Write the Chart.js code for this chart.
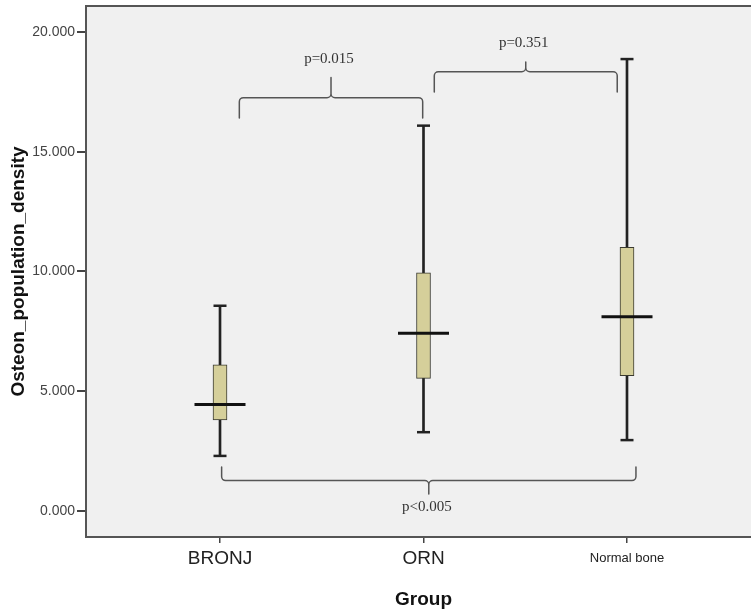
<!DOCTYPE html>
<html>
<head>
<meta charset="utf-8">
<script src="https://cdn.jsdelivr.net/npm/chart.js@4.4.1/dist/chart.umd.min.js"></script>
<style>
  html, body { margin: 0; padding: 0; background: #ffffff; overflow: hidden; }
  #wrap { width: 761px; height: 611px; }
</style>
</head>
<body>
<div id="wrap"><canvas id="c" width="761" height="611"></canvas></div>
<script>
// ---- data ----
const categories   = ['BRONJ', 'ORN', 'Normal bone'];
const whiskerLow   = [2.30, 3.29, 2.96];
const quartile1    = [3.80, 5.54, 5.65];
const medians      = [4.45, 7.42, 8.11];
const quartile3    = [6.10, 9.94, 11.01];
const whiskerHigh  = [8.57, 16.09, 18.87];
const yTickValues  = [0, 5, 10, 15, 20];
const yTickLabels  = ['0.000', '5.000', '10.000', '15.000', '20.000'];
const pLabels      = ['p=0.015', 'p=0.351', 'p<0.005'];

const SANS = 'Liberation Sans, Arial, sans-serif';
const SERIF = 'Liberation Serif, Times New Roman, serif';

// bracket annotation geometry (category-index units on x, value units on y)
const bracketGeom = [
  { from: 0.095, to: 0.996, bar: 17.26, leg: 16.41, tip: 18.10, text: 18.87 },
  { from: 1.053, to: 1.952, bar: 18.34, leg: 17.50, tip: 18.75, text: 19.54 },
  { from: 0.008, to: 2.044, bar: 1.27,  leg: 1.84,  tip: 0.71,  text: 0.18 }
];

const framePlugin = {
  id: 'frame',
  beforeDraw(chart) {
    const { ctx, chartArea: a } = chart;
    ctx.save();
    ctx.fillStyle = '#f0f0f0';
    ctx.fillRect(a.left, a.top, a.right - a.left, a.bottom - a.top);
    ctx.restore();
  },
  afterDraw(chart) {
    const { ctx, chartArea: a } = chart;
    ctx.save();
    ctx.strokeStyle = '#555555';
    ctx.lineWidth = 2;
    ctx.beginPath();
    ctx.moveTo(a.left, a.top);
    ctx.lineTo(a.right, a.top);
    ctx.stroke();
    ctx.restore();
  }
};

const bracketPlugin = {
  id: 'brackets',
  afterDatasetsDraw(chart) {
    const { ctx, scales: { x, y } } = chart;
    ctx.save();
    ctx.strokeStyle = '#555555';
    ctx.lineWidth = 1.5;
    ctx.lineJoin = 'round';
    ctx.lineCap = 'round';
    const r = 4;
    bracketGeom.forEach((b, i) => {
      const x1 = x.getPixelForValue(b.from);
      const x2 = x.getPixelForValue(b.to);
      const xc = (x1 + x2) / 2;
      const yH = y.getPixelForValue(b.bar);
      const yL = y.getPixelForValue(b.leg);
      const yT = y.getPixelForValue(b.tip);
      ctx.beginPath();
      ctx.moveTo(x1, yL);
      ctx.arcTo(x1, yH, xc, yH, r);
      ctx.arcTo(xc, yH, xc, yT, r);
      ctx.lineTo(xc, yT);
      ctx.moveTo(xc, yT);
      ctx.arcTo(xc, yH, x2, yH, r);
      ctx.arcTo(x2, yH, x2, yL, r);
      ctx.lineTo(x2, yL);
      ctx.stroke();
      ctx.fillStyle = '#333333';
      ctx.font = '15px ' + SERIF;
      ctx.textAlign = 'center';
      ctx.textBaseline = 'middle';
      ctx.fillText(pLabels[i], xc - 2, y.getPixelForValue(b.text));
    });
    ctx.restore();
  }
};

const idx = categories.map((c, i) => i);

function noPad(scale) {
  scale.paddingTop = 0;
  scale.paddingBottom = 0;
  scale.paddingLeft = 0;
  scale.paddingRight = 0;
}

new Chart(document.getElementById('c'), {
  type: 'bar',
  data: {
    datasets: [
      {
        label: 'whisker',
        order: 3,
        data: idx.map(i => ({ x: i, y: [whiskerLow[i], whiskerHigh[i]] })),
        backgroundColor: '#222222',
        borderWidth: 0,
        barThickness: 2,
        maxBarThickness: 2,
        grouped: false
      },
      {
        label: 'box',
        order: 2,
        data: idx.map(i => ({ x: i, y: [quartile1[i], quartile3[i]] })),
        backgroundColor: '#d5cf9a',
        borderColor: '#3a3a30',
        borderWidth: 1,
        borderSkipped: false,
        barThickness: 14,
        maxBarThickness: 14,
        grouped: false
      },
      {
        type: 'line',
        label: 'caps',
        order: 1,
        showLine: false,
        data: idx.map(i => ({ x: i, y: whiskerLow[i] })).concat(idx.map(i => ({ x: i, y: whiskerHigh[i] }))),
        pointStyle: 'line',
        pointRadius: 6.5,
        pointBorderWidth: 2.5,
        pointBorderColor: '#222222',
        pointBackgroundColor: '#222222'
      },
      {
        type: 'line',
        label: 'median',
        order: 0,
        showLine: false,
        data: idx.map(i => ({ x: i, y: medians[i] })),
        pointStyle: 'line',
        pointRadius: 25.5,
        pointBorderWidth: 3,
        pointBorderColor: '#111111',
        pointBackgroundColor: '#111111'
      }
    ]
  },
  options: {
    responsive: false,
    animation: false,
    devicePixelRatio: 1,
    layout: { autoPadding: false, padding: { top: 6, right: 0, left: 0, bottom: 0 } },
    plugins: { legend: { display: false }, tooltip: { enabled: false } },
    scales: {
      x: {
        type: 'linear',
        offset: false,
        min: -0.6585,
        max: 2.6585,
        afterFit(scale) { scale.height = 74; noPad(scale); },
        afterBuildTicks(scale) { scale.ticks = idx.map(i => ({ value: i })); },
        border: { display: true, color: '#555555', width: 2 },
        grid: { offset: false, drawOnChartArea: false, drawTicks: true, tickLength: 6, color: '#444444', lineWidth: 1.5 },
        ticks: {
          padding: 4,
          maxRotation: 0,
          autoSkip: false,
          color: '#222222',
          font: (ctx) => (ctx.index === 2
            ? { family: SANS, size: 13, lineHeight: 22.8 / 13 }
            : { family: SANS, size: 19, lineHeight: 1.2 }),
          callback: (v) => categories[v] ?? ''
        },
        title: {
          display: true,
          text: 'Group',
          color: '#111111',
          font: { family: SANS, size: 19, weight: 'bold' },
          padding: { top: 4, bottom: 0 }
        }
      },
      y: {
        type: 'linear',
        min: -1.086,
        max: 21.086,
        afterFit(scale) { scale.width = 86; noPad(scale); },
        afterBuildTicks(scale) { scale.ticks = yTickValues.map(v => ({ value: v })); },
        border: { display: true, color: '#555555', width: 2 },
        grid: { drawOnChartArea: false, drawTicks: true, tickLength: 9, color: '#444444', lineWidth: 2 },
        ticks: {
          padding: 2,
          color: '#444444',
          font: { family: SANS, size: 14 },
          callback: (v) => yTickLabels[yTickValues.indexOf(v)] ?? ''
        },
        title: {
          display: true,
          text: 'Osteon_population_density',
          color: '#111111',
          font: { family: SANS, size: 19, weight: 'bold' },
          padding: { top: 7, bottom: 4 }
        }
      }
    }
  },
  plugins: [framePlugin, bracketPlugin]
});
</script>
</body>
</html>
